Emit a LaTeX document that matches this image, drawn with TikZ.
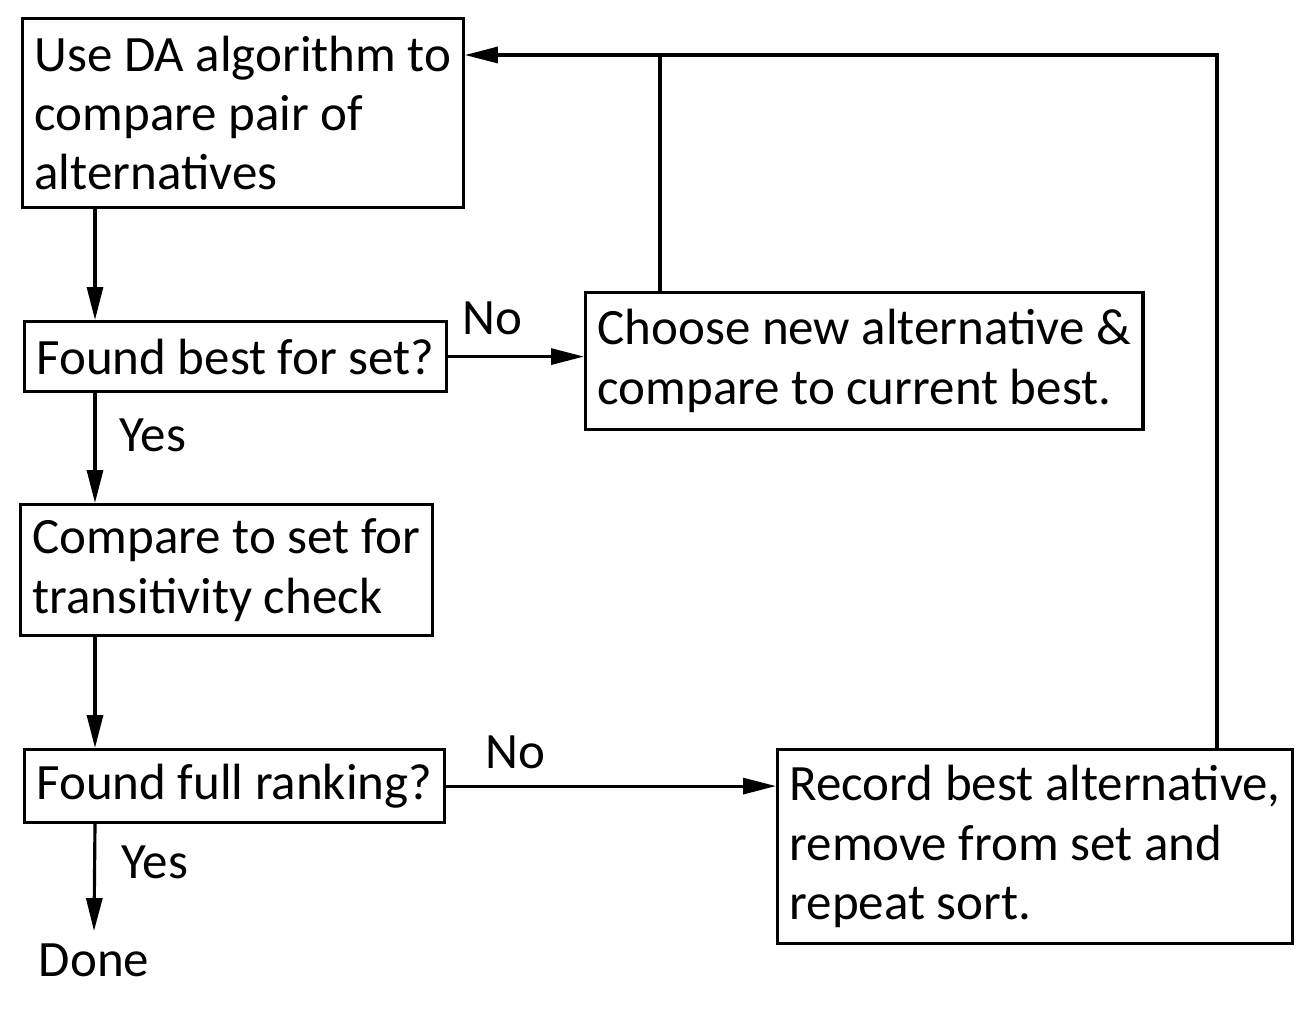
\documentclass[tikz,border=0pt]{standalone}
\usepackage{fontspec}
\setmainfont{Carlito}
\usetikzlibrary{arrows.meta,positioning}

\begin{document}
\begin{tikzpicture}[
	box/.style={draw, line width=0.9pt, align=left, anchor=north west, inner xsep=0.12cm, inner ysep=0pt,
		font=\fontsize{14.5}{16.9}\selectfont},
	lbl/.style={font=\fontsize{14.5}{16.9}\selectfont},
	flow/.style={line width=0.9pt, -{Triangle[length=0.33cm, width=0.16cm]}},
	line/.style={line width=0.9pt}
]
	\useasboundingbox (0,0) rectangle (13.14,-10.10);

	\node (A) [box, minimum height=1.89cm] at (0.21,-0.17)
		{Use DA algorithm to\\compare pair of\\alternatives};
	\node (B) [box, minimum height=0.70cm] at (0.23,-3.20)
		{Found best for set?};
	\node (C) [box, minimum height=1.37cm] at (5.84,-2.91)
		{Choose new alternative \&\\compare to current best.};
	\node (D) [box, minimum height=1.31cm] at (0.19,-5.03)
		{Compare to set for\\transitivity check};
	\node (E) [box, minimum height=0.73cm] at (0.23,-7.48)
		{Found full ranking?};
	\node (F) [box, minimum height=1.94cm] at (7.76,-7.48)
		{Record best alternative,\\remove from set and\\repeat sort.};
	\node (G) [lbl] at (0.94,-9.60) {Done};

	\coordinate (c1) at (6.60,-0.55);
	\coordinate (c2) at (12.17,-0.55);

	% main column
	\draw [flow] (A.south -| 0.95,0) -- (B.north -| 0.95,0);
	\draw [flow] (B.south -| 0.95,0) -- (D.north -| 0.95,0);
	\draw [flow] (D.south -| 0.95,0) -- (E.north -| 0.95,0);
	\draw [flow] (E.south -| 0.95,0) -- (G.north);

	% no branches
	\draw [flow] (B.east) -- (B.east -| C.west);
	\draw [flow] (E.east) -- (E.east -| F.west);

	% loops back
	\draw [line] (C.north -| c1) -- (c1);
	\draw [flow] (F.north -| c2) -- (c2) -- (c2 -| A.east);

	\node (L1) [lbl] at (4.92,-3.18) {No};
	\node (L2) [lbl] at (1.53,-4.35) {Yes};
	\node (L3) [lbl] at (5.15,-7.52) {No};
	\node (L4) [lbl] at (1.55,-8.62) {Yes};
\end{tikzpicture}
\end{document}
